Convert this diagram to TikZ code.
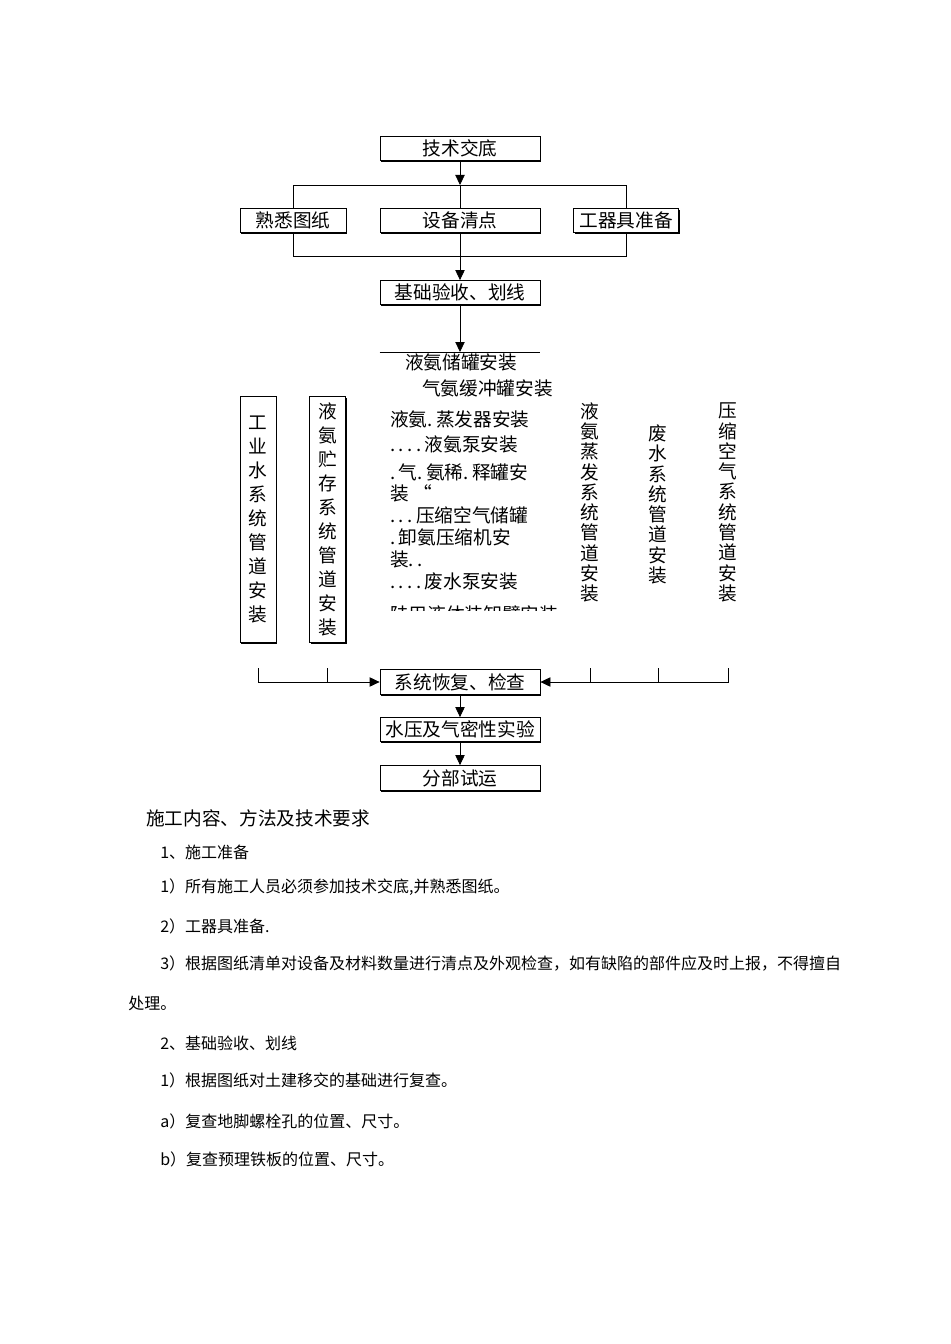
\documentclass[tikz,border=0pt]{standalone}
\usepackage{fontspec}
\setmainfont{Noto Sans CJK SC}
\usetikzlibrary{arrows.meta,shadows}
\newcommand\wdot{.\kern2.6pt}

\tikzset{
  flowbox/.style={draw, fill=white, line width=0.6pt, minimum width=120pt, minimum height=18pt,
    inner sep=0pt, font=\fontsize{14}{16}\selectfont,
    drop shadow={shadow xshift=1.1pt, shadow yshift=-1.1pt, opacity=1, fill=black}},
  stackbox/.style={flowbox, minimum width=27pt, minimum height=184pt, align=center,
    font=\fontsize{14}{18}\selectfont},
  stacktext/.style={align=center, inner sep=0pt, font=\fontsize{14}{15.2}\selectfont},
  connector/.style={draw, line width=0.6pt},
  flowarrow/.style={connector, -{Triangle[length=7.5pt,width=7pt]}},
  listline/.style={anchor=west, inner sep=0pt, font=\fontsize{14}{16}\selectfont},
  titleline/.style={anchor=west, inner sep=0pt, font=\fontsize{14}{16}\selectfont},
  bodyline/.style={anchor=west, inner sep=0pt, font=\fontsize{12}{14}\selectfont}
}

\begin{document}
\begin{tikzpicture}[x=0.75pt,y=-0.75pt]
  \useasboundingbox[fill=white] (0,0) rectangle (950,1344);

  \node[flowbox] (jszd) at (460,148.5) {技术交底};
  \node[flowbox, minimum width=79.5pt] (sxtz) at (293,220.5) {熟悉图纸};
  \node[flowbox] (sbqd) at (460,220.5) {设备清点};
  \node[flowbox, minimum width=79pt] (gqjzb) at (626,220.5) {工器具准备};
  \node[flowbox] (jcys) at (460,292.5) {基础验收、划线};

  \coordinate (forkup) at (460,185);
  \coordinate (forkdown) at (460,256);
  \coordinate (bar) at (460,352);

  \draw[flowarrow] (jszd.south) -- (forkup);
  \draw[connector] (sxtz.north) -- (sxtz.north |- forkup) -- (gqjzb.north |- forkup) -- (gqjzb.north);
  \draw[connector] (forkup) -- (sbqd.north);
  \draw[connector] (sxtz.south) -- (sxtz.south |- forkdown) -- (gqjzb.south |- forkdown) -- (gqjzb.south);
  \draw[connector] (sbqd.south) -- (forkdown);
  \draw[flowarrow] (forkdown) -- (jcys.north);
  \draw[flowarrow] (jcys.south) -- (bar);
  \draw[connector] (bar -| jcys.west) -- (bar -| jcys.east);

  \node[listline] (yacg) at (405,362) {液氨储罐安装};
  \node[listline] (qahc) at (422,388) {气氨缓冲罐安装};
  \node[listline] (zfq) at (390,419) {液氨\wdot 蒸发器安装};
  \node[listline] (yab) at (390,444) {\wdot\wdot\wdot\wdot 液氨泵安装};
  \node[listline] (xsg) at (390,472) {\wdot 气\wdot 氨稀\wdot 释罐安};
  \node[listline] (xsg2) at (390,493) {装 “};
  \node[listline] (kqcg) at (390,515) {\wdot\wdot\wdot 压缩空气储罐};
  \node[listline] (ysj) at (390,537) {\wdot 卸氨压缩机安};
  \node[listline] (ysj2) at (390,559) {装\wdot\wdot};
  \node[listline] (fsb) at (390,581) {\wdot\wdot\wdot\wdot 废水泵安装};
  \begin{scope}
    \clip (380,598) rectangle (560,610);
    \node[listline] (zxb) at (390,614) {陆用液体装卸臂安装};
  \end{scope}

  \node[stackbox] (gysxt) at (258,519.5) {工\\业\\水\\系\\统\\管\\道\\安\\装};
  \node[stackbox] (yaccxt) at (327.5,519.5) {液\\氨\\贮\\存\\系\\统\\管\\道\\安\\装};
  \node[stacktext] (yazfxt) at (590,502.5) {液\\氨\\蒸\\发\\系\\统\\管\\道\\安\\装};
  \node[stacktext] (fsxt) at (658,504.5) {废\\水\\系\\统\\管\\道\\安\\装};
  \node[stacktext] (ysxt) at (728,502.5) {压\\缩\\空\\气\\系\\统\\管\\道\\安\\装};

  \node[flowbox, minimum height=18.75pt] (xthf) at (460,682) {系统恢复、检查};
  \node[flowbox] (syqm) at (460,729.5) {水压及气密性实验};
  \node[flowbox, minimum height=18.75pt] (fbsy) at (460,778) {分部试运};

  \coordinate (tick) at (0,668);

  \draw[flowarrow] (gysxt.south |- tick) |- (xthf.west);
  \draw[connector] (yaccxt.south |- tick) -- (yaccxt.south |- xthf.west);
  \draw[flowarrow] (ysxt.south |- tick) |- (xthf.east);
  \draw[connector] (yazfxt.south |- tick) -- (yazfxt.south |- xthf.east);
  \draw[connector] (fsxt.south |- tick) -- (fsxt.south |- xthf.east);
  \draw[flowarrow] (xthf.south) -- (syqm.north);
  \draw[flowarrow] (syqm.south) -- (fbsy.north);

  \node[titleline] (nr) at (146,818) {施工内容、方法及技术要求};
  \node[bodyline] (sgzb) at (160,852) {1、施工准备};
  \node[bodyline] (sgzb1) at (160,887) {1）所有施工人员必须参加技术交底,并熟悉图纸。};
  \node[bodyline] (sgzb2) at (160,926) {2）工器具准备.};
  \node[bodyline] (sgzb3) at (160,963) {3）根据图纸清单对设备及材料数量进行清点及外观检查，如有缺陷的部件应及时上报，不得擅自};
  \node[bodyline] (sgzb3b) at (128,1003) {处理。};
  \node[bodyline] (jc) at (160,1043) {2、基础验收、划线};
  \node[bodyline] (jc1) at (160,1080) {1）根据图纸对土建移交的基础进行复查。};
  \node[bodyline] (jc1a) at (160,1121) {a）复查地脚螺栓孔的位置、尺寸。};
  \node[bodyline] (jc1b) at (160,1159) {b）复查预理铁板的位置、尺寸。};
\end{tikzpicture}
\end{document}
